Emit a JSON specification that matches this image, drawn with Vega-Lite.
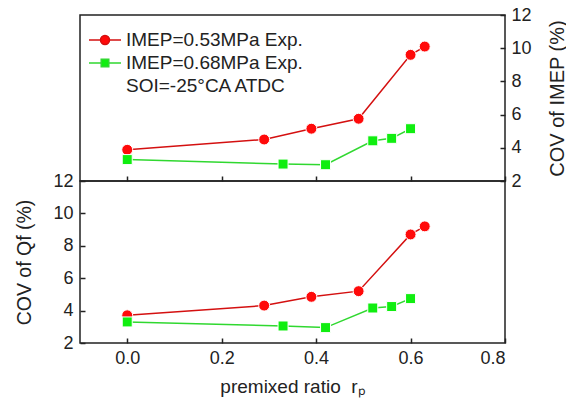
{
  "$schema": "https://vega.github.io/schema/vega-lite/v6.json",
  "padding": {"top": 5, "left": 14, "right": 0, "bottom": 1},
  "background": "white",
  "bounds": "flush",
  "config": {
    "font": "Liberation Sans",
    "view": {"stroke": "#222", "strokeWidth": 1.5},
    "axis": {
      "grid": false, "domain": false,
      "tickColor": "#222", "tickWidth": 1.5, "tickSize": -5,
      "labelPadding": 8, "labelFont": "Liberation Sans", "labelFontSize": 18, "labelColor": "#222",
      "titleFont": "Liberation Sans", "titleFontSize": 19.5, "titleFontWeight": "normal", "titleColor": "#222"
    },
    "legend": {"title": null, "orient": "top-left", "offset": 15, "padding": 0, "symbolSize": 324, "symbolStrokeWidth": 1.5, "symbolOpacity": 1, "labelFontSize": 19, "labelFont": "Liberation Sans", "labelColor": "#222", "labelLimit": 400, "labelOffset": 11, "rowPadding": 3}
  },
  "datasets": {
    "top": [
      {"series": "IMEP=0.53MPa Exp.", "x": 0.0, "y": 3.88},
      {"series": "IMEP=0.53MPa Exp.", "x": 0.29, "y": 4.5},
      {"series": "IMEP=0.53MPa Exp.", "x": 0.39, "y": 5.15},
      {"series": "IMEP=0.53MPa Exp.", "x": 0.49, "y": 5.75},
      {"series": "IMEP=0.53MPa Exp.", "x": 0.6, "y": 9.6},
      {"series": "IMEP=0.53MPa Exp.", "x": 0.63, "y": 10.1},
      {"series": "IMEP=0.68MPa Exp.", "x": 0.0, "y": 3.29},
      {"series": "IMEP=0.68MPa Exp.", "x": 0.33, "y": 3.02},
      {"series": "IMEP=0.68MPa Exp.", "x": 0.42, "y": 2.98},
      {"series": "IMEP=0.68MPa Exp.", "x": 0.52, "y": 4.42},
      {"series": "IMEP=0.68MPa Exp.", "x": 0.56, "y": 4.57},
      {"series": "IMEP=0.68MPa Exp.", "x": 0.6, "y": 5.15}
    ],
    "bottom": [
      {"series": "IMEP=0.53MPa Exp.", "x": 0.0, "y": 3.71},
      {"series": "IMEP=0.53MPa Exp.", "x": 0.29, "y": 4.31},
      {"series": "IMEP=0.53MPa Exp.", "x": 0.39, "y": 4.85},
      {"series": "IMEP=0.53MPa Exp.", "x": 0.49, "y": 5.2},
      {"series": "IMEP=0.53MPa Exp.", "x": 0.6, "y": 8.7},
      {"series": "IMEP=0.53MPa Exp.", "x": 0.63, "y": 9.2},
      {"series": "IMEP=0.68MPa Exp.", "x": 0.0, "y": 3.3},
      {"series": "IMEP=0.68MPa Exp.", "x": 0.33, "y": 3.05},
      {"series": "IMEP=0.68MPa Exp.", "x": 0.42, "y": 2.95},
      {"series": "IMEP=0.68MPa Exp.", "x": 0.52, "y": 4.16},
      {"series": "IMEP=0.68MPa Exp.", "x": 0.56, "y": 4.25},
      {"series": "IMEP=0.68MPa Exp.", "x": 0.6, "y": 4.74}
    ]
  },
  "spacing": 0,
  "resolve": {"legend": {"fill": "independent", "stroke": "independent", "shape": "independent"}},
  "vconcat": [
    {
      "width": 425, "height": 166,
      "data": {"name": "top"},
      "encoding": {
        "x": {"field": "x", "type": "quantitative", "scale": {"domain": [-0.1, 0.8], "nice": false, "zero": false},
              "axis": {"values": [0, 0.2, 0.4, 0.6, 0.8], "labels": false, "title": null}},
        "y": {"field": "y", "type": "quantitative", "scale": {"domain": [2, 12], "nice": false, "zero": false},
              "axis": {"orient": "right", "values": [2, 4, 6, 8, 10, 12], "labelPadding": 11, "title": "COV of IMEP (%)", "titleFontSize": 20, "titleAngle": -90, "titleBaseline": "top", "titlePadding": 16}}
      },
      "layer": [
        {
          "mark": {"type": "line", "strokeWidth": 1.5},
          "encoding": {
            "stroke": {"field": "series", "type": "nominal", "scale": {"domain": ["IMEP=0.53MPa Exp.", "IMEP=0.68MPa Exp.", "SOI=-25°CA ATDC"], "range": ["#d41010", "#30d830", "transparent"]}, "legend": {"rowPadding": 3}}
          }
        },
        {
          "mark": {"type": "point", "filled": true, "opacity": 1, "strokeWidth": 1.5},
          "encoding": {
            "shape": {"field": "series", "type": "nominal",
                      "scale": {"domain": ["IMEP=0.53MPa Exp.", "IMEP=0.68MPa Exp.", "SOI=-25°CA ATDC"],
                                "range": ["M-1.78,0H-0.5M0.5,0H1.78M-0.5,0A0.5,0.5,0,1,0,0.5,0A0.5,0.5,0,1,0,-0.5,0Z", "M-1.78,0H-0.42M0.42,0H1.78M-0.42,-0.42H0.42V0.42H-0.42Z", "M0,0"]},
                      "legend": {"rowPadding": 3}},
            "fill": {"field": "series", "type": "nominal",
                     "scale": {"domain": ["IMEP=0.53MPa Exp.", "IMEP=0.68MPa Exp.", "SOI=-25°CA ATDC"], "range": ["#ff0a0a", "#10ee10", "transparent"]},
                     "legend": {"rowPadding": 3}},
            "stroke": {"field": "series", "type": "nominal", "legend": {"rowPadding": 3}},
            "size": {"value": 0}
          }
        },
        {
          "transform": [{"filter": "datum.series === 'IMEP=0.53MPa Exp.'"}],
          "mark": {"type": "point", "shape": "circle", "filled": true, "fill": "#ff0a0a", "opacity": 1, "stroke": "white", "strokeWidth": 1, "size": 120}
        },
        {
          "transform": [{"filter": "datum.series === 'IMEP=0.68MPa Exp.'"}],
          "mark": {"type": "point", "shape": "square", "filled": true, "fill": "#10ee10", "opacity": 1, "stroke": "white", "strokeWidth": 1, "size": 100}
        }
      ]
    },
    {
      "width": 425, "height": 162,
      "data": {"name": "bottom"},
      "encoding": {
        "x": {"field": "x", "type": "quantitative", "scale": {"domain": [-0.1, 0.8], "nice": false, "zero": false},
              "axis": {"values": [0, 0.2, 0.4, 0.6, 0.8], "format": ".1f", "labelPadding": 11, "title": "premixed ratio\u00a0\u00a0rₚ", "titleFontSize": 19, "titlePadding": 10}},
        "y": {"field": "y", "type": "quantitative", "scale": {"domain": [2, 12], "nice": false, "zero": false},
              "axis": {"orient": "left", "values": [2, 4, 6, 8, 10, 12], "title": "COV of Qf (%)", "titlePadding": 18, "labelPadding": 12}}
      },
      "layer": [
        {
          "mark": {"type": "line", "strokeWidth": 1.5},
          "encoding": {
            "stroke": {"field": "series", "type": "nominal", "scale": {"domain": ["IMEP=0.53MPa Exp.", "IMEP=0.68MPa Exp.", "SOI=-25°CA ATDC"], "range": ["#d41010", "#30d830", "transparent"]}, "legend": null}
          }
        },
        {
          "transform": [{"filter": "datum.series === 'IMEP=0.53MPa Exp.'"}],
          "mark": {"type": "point", "shape": "circle", "filled": true, "fill": "#ff0a0a", "opacity": 1, "stroke": "white", "strokeWidth": 1, "size": 120}
        },
        {
          "transform": [{"filter": "datum.series === 'IMEP=0.68MPa Exp.'"}],
          "mark": {"type": "point", "shape": "square", "filled": true, "fill": "#10ee10", "opacity": 1, "stroke": "white", "strokeWidth": 1, "size": 100}
        }
      ]
    }
  ]
}
